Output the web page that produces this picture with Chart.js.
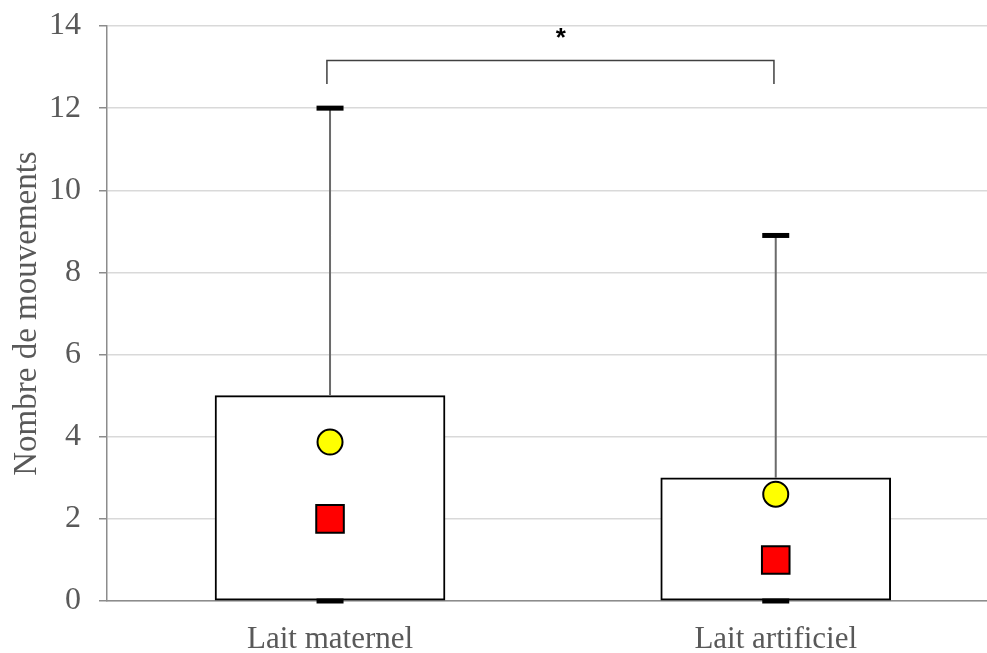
<!DOCTYPE html>
<html>
<head>
<meta charset="utf-8">
<script src="https://cdn.jsdelivr.net/npm/chart.js@4.4.0/dist/chart.umd.min.js"></script>
<style>
html,body{margin:0;padding:0;background:#fff;overflow:hidden;}
#wrap{width:987px;height:653px;position:relative;}
canvas{display:block;}
</style>
</head>
<body>
<div id="wrap"><canvas id="c"></canvas></div>
<script>
// ---- data ----
const categories = ['Lait maternel', 'Lait artificiel'];
const q1 = [0, 0];
const q3 = [5, 3];
const minValues = [0, 0];
const maxValues = [12, 8.9];
const means = [3.87, 2.6];
const medians = [2, 1];
const yTicks = [0, 2, 4, 6, 8, 10, 12, 14];
const yTitle = 'Nombre de mouvements';
const sigLabel = '*';
const sigBracket = [[0.993, 12.59], [0.993, 13.16], [1.996, 13.16], [1.996, 12.59]];
const sigLabelPos = [1.518, 13.8];

const xs = categories.map((c, i) => i + 1);
const boxData = xs.map((x, i) => ({x: x, y: [q1[i], q3[i]]}));
const whiskerData = [];
xs.forEach((x, i) => {
  if (i > 0) whiskerData.push({x: x - 0.5, y: null});
  whiskerData.push({x: x, y: q3[i]});
  whiskerData.push({x: x, y: maxValues[i]});
});
const capData = [];
xs.forEach((x, i) => { capData.push({x: x, y: maxValues[i]}); capData.push({x: x, y: minValues[i]}); });
const meanData = xs.map((x, i) => ({x: x, y: means[i]}));
const medianData = xs.map((x, i) => ({x: x, y: medians[i]}));
const bracketData = sigBracket.map(p => ({x: p[0], y: p[1]}));

const serif = "'Liberation Serif', 'Times New Roman', serif";
const textGray = '#595959';

const sigPlugin = {
  id: 'sigText',
  afterDatasetsDraw(chart) {
    const {ctx, scales} = chart;
    ctx.save();
    ctx.fillStyle = '#000';
    ctx.font = "bold 26px 'Liberation Sans', Arial, sans-serif";
    ctx.textAlign = 'center';
    ctx.textBaseline = 'middle';
    ctx.fillText(sigLabel, scales.x.getPixelForValue(sigLabelPos[0]), scales.y.getPixelForValue(sigLabelPos[1]) + 5);
    ctx.restore();
  }
};

new Chart(document.getElementById('c'), {
  data: {
    datasets: [
      {type: 'bar', data: boxData, backgroundColor: '#ffffff', borderColor: '#000000', borderWidth: 2,
       borderSkipped: false, barThickness: 230, order: 5},
      {type: 'line', data: whiskerData, borderColor: '#6b6b6b', borderWidth: 2, pointRadius: 0,
       spanGaps: false, order: 4},
      {type: 'scatter', data: capData, pointStyle: 'line', pointRadius: 13.5, borderColor: '#000000',
       borderWidth: 5, clip: false, order: 3},
      {type: 'scatter', data: medianData, pointStyle: 'rect', pointRadius: 19.5, backgroundColor: '#ff0000',
       borderColor: '#000000', borderWidth: 2, order: 2},
      {type: 'scatter', data: meanData, pointStyle: 'circle', pointRadius: 12.5, backgroundColor: '#ffff00',
       borderColor: '#000000', borderWidth: 2, order: 1},
      {type: 'line', data: bracketData, borderColor: '#404040', borderWidth: 1.5, pointRadius: 0, order: 0}
    ]
  },
  options: {
    responsive: true,
    maintainAspectRatio: false,
    animation: false,
    events: [],
    layout: {autoPadding: false, padding: {top: 26, right: 0, bottom: 0, left: 0}},
    plugins: {legend: {display: false}, tooltip: {enabled: false}},
    scales: {
      x: {
        type: 'linear', min: 0.4996, max: 2.474, offset: false, grace: 0,
        afterBuildTicks: (s) => { s.ticks = xs.map(v => ({value: v})); },
        afterFit: (s) => { s.height = 52; s.paddingLeft = 0; s.paddingRight = 0; },
        grid: {display: false},
        border: {display: true, color: '#8c8c8c', width: 1.5},
        ticks: {
          callback: (v) => categories[v - 1] || '',
          color: textGray, font: {family: serif, size: 31}, padding: 12, maxRotation: 0, autoSkip: false
        }
      },
      y: {
        type: 'linear', min: 0, max: 14,
        afterBuildTicks: (s) => { s.ticks = yTicks.map(v => ({value: v})); },
        afterFit: (s) => { s.width = 107; s.paddingTop = 0; s.paddingBottom = 0; },
        grid: {color: '#d9d9d9', lineWidth: 1.5, tickColor: '#8c8c8c', tickLength: 8},
        border: {display: true, color: '#8c8c8c', width: 1.5},
        ticks: {color: textGray, font: {family: serif, size: 32}, padding: 18},
        title: {display: true, text: yTitle, color: textGray, font: {family: serif, size: 33},
                padding: {top: 8, bottom: 0}}
      }
    }
  },
  plugins: [sigPlugin]
});
</script>
</body>
</html>
